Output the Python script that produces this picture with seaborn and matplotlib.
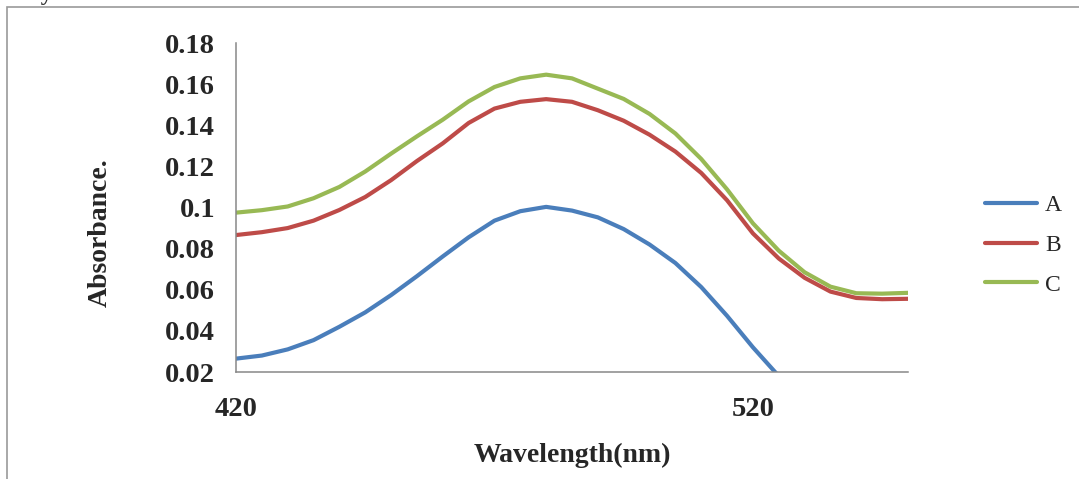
import matplotlib
matplotlib.use("Agg")
import matplotlib.pyplot as plt
from matplotlib.lines import Line2D
from matplotlib.patches import Rectangle
import numpy as np
import pandas as pd
import seaborn as sns

# Absorbance spectra of three dye samples
wavelength = [420, 425, 430, 435, 440, 445, 450, 455, 460, 465, 470, 475, 480,
              485, 490, 495, 500, 505, 510, 515, 520, 525, 530, 535, 540, 545, 550]

absorb_a = [0.0265, 0.0280, 0.0310, 0.0355, 0.0420, 0.0490, 0.0574, 0.0666, 0.0762,
            0.0855, 0.0936, 0.0982, 0.1003, 0.0985, 0.0952, 0.0895, 0.0820, 0.0730,
            0.0613, 0.0473, 0.0320, 0.0180]

absorb_b = [0.0866, 0.0880, 0.0900, 0.0936, 0.0988, 0.1051, 0.1133, 0.1226, 0.1312,
            0.1411, 0.1481, 0.1514, 0.1527, 0.1514, 0.1473, 0.1422, 0.1354, 0.1272,
            0.1168, 0.1035, 0.0874, 0.0752, 0.0658, 0.0591, 0.0560, 0.0554, 0.0556]

absorb_c = [0.0975, 0.0987, 0.1005, 0.1045, 0.1100, 0.1175, 0.1262, 0.1346, 0.1427,
            0.1516, 0.1586, 0.1628, 0.1646, 0.1628, 0.1578, 0.1528, 0.1455, 0.1360,
            0.1236, 0.1088, 0.0923, 0.0790, 0.0685, 0.0615, 0.0583, 0.0581, 0.0585]

series_names = ["A", "B", "C"]
series_colors = {"A": "#4A7EBB", "B": "#BE4B48", "C": "#98B954"}

y_ticks = [0.02, 0.04, 0.06, 0.08, 0.10, 0.12, 0.14, 0.16, 0.18]
y_tick_labels = ["0.02", "0.04", "0.06", "0.08", "0.1", "0.12", "0.14", "0.16", "0.18"]
x_ticks = [420, 520]

frames = []
for name, vals in zip(series_names, [absorb_a, absorb_b, absorb_c]):
    frames.append(pd.DataFrame({"Wavelength": wavelength[:len(vals)],
                                "Absorbance": vals, "Sample": name}))
df = pd.concat(frames, ignore_index=True)

sns.set_style("white")
plt.rcParams["font.family"] = ["Liberation Serif", "DejaVu Serif"]

W, H = 1079, 479
fig = plt.figure(figsize=(W / 100, H / 100), dpi=100)
fig.patch.set_facecolor("white")

ax = fig.add_axes([236 / W, 1 - 372 / H, (908 - 236) / W, (372 - 43) / H])
sns.lineplot(data=df, x="Wavelength", y="Absorbance", hue="Sample",
             palette=series_colors, linewidth=3.0, ax=ax, legend=False,
             sort=True, estimator=None)

ax.set_xlim(420, 550)
ax.set_ylim(0.02, 0.18)
ax.set_xticks(x_ticks)
ax.set_xticklabels([str(t) for t in x_ticks])
ax.set_yticks(y_ticks)
ax.set_yticklabels(y_tick_labels)

spine_color = "#888888"
for side in ["top", "right"]:
    ax.spines[side].set_visible(False)
for side in ["left", "bottom"]:
    ax.spines[side].set_color(spine_color)
    ax.spines[side].set_linewidth(1.1)

ax.tick_params(axis="both", which="major", direction="out", length=7, width=1.0,
               color=spine_color, labelsize=20.5)
ax.tick_params(axis="y", pad=8)
ax.tick_params(axis="x", pad=11)
for lbl in ax.get_xticklabels() + ax.get_yticklabels():
    lbl.set_fontweight("bold")

ax.set_xlabel("")
ax.set_ylabel("")
fig.text(572 / W, 1 - 455 / H, "Wavelength(nm)", ha="center", va="center",
         fontsize=20, fontweight="bold")
fig.text(100 / W, 1 - 233 / H, "Absorbance.", ha="center", va="center",
         rotation=90, fontsize=20, fontweight="bold")

# Legend on the right side of the chart area
handles = [Line2D([0], [0], color=series_colors[n], lw=3.0) for n in series_names]
fig.legend(handles, series_names, loc="center left",
           bbox_to_anchor=(985 / W, 1 - 245 / H), frameon=False,
           borderaxespad=0, borderpad=0,
           fontsize=17, handlelength=2.2, handletextpad=0.35, labelspacing=0.78)

# Outer chart frame
fig.add_artist(Rectangle((7 / W, -0.05), 1.2, (H - 7) / H + 0.05,
                         transform=fig.transFigure, fill=False,
                         edgecolor="#9a9a9a", linewidth=1.2))

# Caption line running above the chart frame
fig.text(-0.002, 1.0 - 0.4 / H, "ed dyes obtained between 420 and 540 nm",
         ha="left", va="baseline", fontsize=17, fontweight="bold", color="#333333")

fig.savefig("out.png", dpi=100, facecolor="white")
